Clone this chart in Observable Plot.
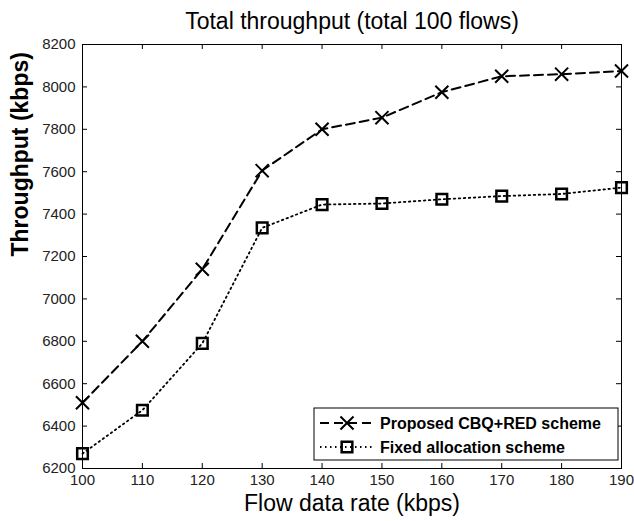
<!DOCTYPE html>
<html><head><meta charset="utf-8">
<script src="https://cdn.jsdelivr.net/npm/d3@7"></script>
<script src="https://cdn.jsdelivr.net/npm/@observablehq/plot@0.6"></script>
<style>body{margin:0;background:#fff} svg{display:block}</style>
</head><body><div id="chart"></div>
<script>
const rates = [100, 110, 120, 130, 140, 150, 160, 170, 180, 190];
const cbqThroughput = [6510, 6800, 7140, 7605, 7800, 7855, 7975, 8050, 8060, 8075];
const fixedThroughput = [6270, 6475, 6790, 7335, 7445, 7450, 7470, 7485, 7495, 7525];
const xTicks = [100, 110, 120, 130, 140, 150, 160, 170, 180, 190];
const yTicks = [6200, 6400, 6600, 6800, 7000, 7200, 7400, 7600, 7800, 8000, 8200];
const seriesNames = ["Proposed CBQ+RED scheme", "Fixed allocation scheme"];
const titleText = "Total throughput (total 100 flows)";
const xLabel = "Flow data rate (kbps)";
const yLabel = "Throughput (kbps)";

const cbq = rates.map((r, i) => ({rate: r, value: cbqThroughput[i]}));
const fixed = rates.map((r, i) => ({rate: r, value: fixedThroughput[i]}));
const font = "'Liberation Sans', Arial, sans-serif";

const plot = Plot.plot({
  width: 634, height: 521,
  marginLeft: 82, marginRight: 13, marginTop: 44, marginBottom: 53,
  style: {fontFamily: font, background: "#fff", color: "#000", overflow: "visible"},
  x: {domain: [100, 190]},
  y: {domain: [6200, 8200]},
  marks: [
    Plot.frame({stroke: "#000", strokeWidth: 1}),
    Plot.ruleX(xTicks, {x: d => d, insetTop: 419, stroke: "#000"}),
    Plot.ruleX(xTicks, {x: d => d, insetBottom: 419, stroke: "#000"}),
    Plot.ruleY(yTicks, {y: d => d, insetRight: 534, stroke: "#000"}),
    Plot.ruleY(yTicks, {y: d => d, insetLeft: 534, stroke: "#000"}),
    Plot.axisX({ticks: xTicks, tickSize: 0, tickPadding: 6, fontSize: 15, tickFormat: d => String(d), label: null, fill: "#222"}),
    Plot.axisY({ticks: yTicks, tickSize: 0, tickPadding: 7, fontSize: 15, tickFormat: d => String(d), label: null, fill: "#222"}),
    Plot.line(fixed, {x: "rate", y: "value", stroke: "#000", strokeWidth: 1.8, strokeDasharray: "1.5,3.5"}),
    Plot.dot(fixed, {x: "rate", y: "value", symbol: "square", r: 6, fill: "none", stroke: "#000", strokeWidth: 2.5}),
    Plot.line(cbq, {x: "rate", y: "value", stroke: "#000", strokeWidth: 2, strokeDasharray: "9,5"}),
    Plot.dot(cbq, {x: "rate", y: "value", symbol: "times", r: 6, stroke: "#000", strokeWidth: 2}),
    Plot.text([titleText], {text: d => d, frameAnchor: "top", dy: -16, lineAnchor: "bottom", fontSize: 23, fill: "#000"}),
    Plot.text([xLabel], {text: d => d, frameAnchor: "bottom", dy: 42, fontSize: 23, fill: "#000"}),
    Plot.text([yLabel], {text: d => d, frameAnchor: "left", dx: -62, rotate: -90, fontSize: 23, fontWeight: "bold", fill: "#000"})
  ]
});
document.getElementById("chart").appendChild(plot);

// legend
const svg = d3.select(plot);
const lg = svg.append("g").attr("font-family", font).attr("text-anchor", "start");
lg.append("rect").attr("x", 314).attr("y", 408).attr("width", 304).attr("height", 52)
  .attr("fill", "#fff").attr("stroke", "#000").attr("stroke-width", 1);
const rows = [
  {name: seriesNames[0], dash: "9,5", sw: 2, sym: d3.symbolTimes, msw: 2},
  {name: seriesNames[1], dash: "1.5,3.5", sw: 1.8, sym: d3.symbolSquare, msw: 2.5}
];
rows.forEach((r, i) => {
  const y = 423 + i * 24;
  lg.append("line").attr("x1", 320).attr("x2", 374).attr("y1", y).attr("y2", y)
    .attr("stroke", "#000").attr("stroke-width", r.sw).attr("stroke-dasharray", r.dash);
  lg.append("path").attr("d", d3.symbol(r.sym, Math.PI * 36)())
    .attr("transform", `translate(347,${y})`).attr("fill", "none").attr("stroke", "#000").attr("stroke-width", r.msw);
  lg.append("text").attr("x", 380).attr("y", y).attr("dy", "0.35em").attr("text-anchor", "start")
    .attr("font-size", 16).attr("font-weight", "bold").attr("fill", "#000").text(r.name);
});
</script>
</body></html>
